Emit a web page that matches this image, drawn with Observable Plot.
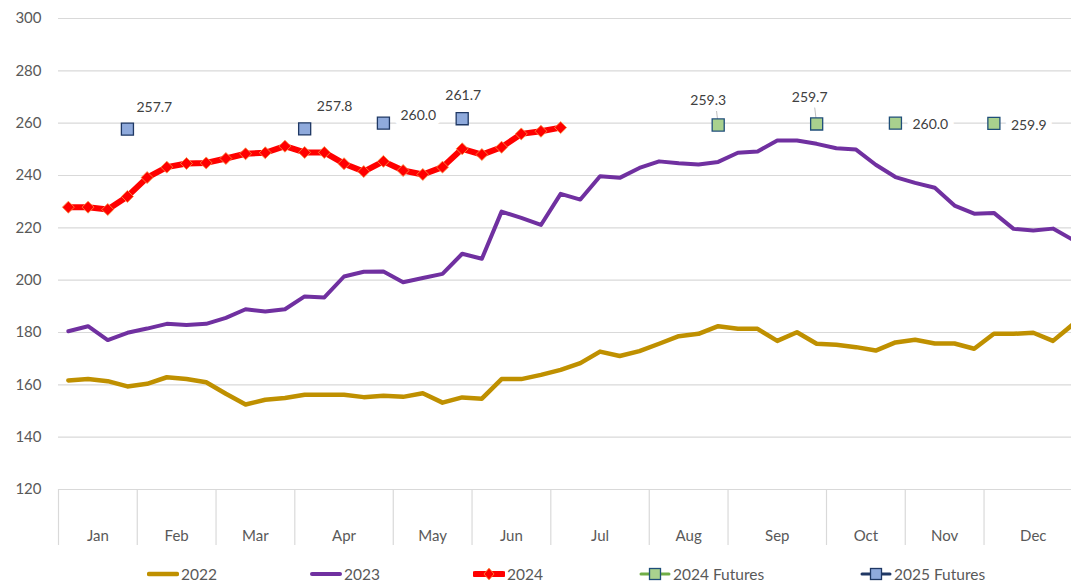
<!DOCTYPE html>
<html>
<head>
<meta charset="utf-8">
<script src="https://cdn.jsdelivr.net/npm/d3@7"></script>
<script src="https://cdn.jsdelivr.net/npm/@observablehq/plot@0.6"></script>
<style>
  html, body { margin: 0; padding: 0; background: #fff; overflow: hidden; }
  #chart { position: relative; width: 1082px; }
  #legend { position: relative; height: 32px; width: 1071px; font-family: Lato, "Open Sans", sans-serif; font-size: 15.5px; color: #595959; }
  .item { position: absolute; top: 13px; height: 22px; display: flex; align-items: center; white-space: nowrap; }
  .item svg { display: block; margin-right: 2px; }
</style>
</head>
<body>
<div id="chart"></div>
<div id="legend"></div>
<script>
// ---- data ----
const months = ["Jan","Feb","Mar","Apr","May","Jun","Jul","Aug","Sep","Oct","Nov","Dec"];
const weeksPerMonth = [4,4,4,5,4,4,5,4,5,4,4,5];
const yTicks = [120,140,160,180,200,220,240,260,280,300];

const s2022 = [161.7,162.2,161.4,159.4,160.4,162.9,162.2,161.0,156.6,152.5,154.3,155.0,156.2,156.2,
  156.2,155.3,155.8,155.4,156.8,153.2,155.2,154.7,162.2,162.2,163.8,165.7,168.3,172.7,171.0,172.9,
  175.7,178.6,179.5,182.4,181.4,181.4,176.8,180.1,175.7,175.3,174.4,173.1,176.2,177.2,175.8,175.8,
  173.8,179.5,179.5,179.9,176.8,183.0];
const s2023 = [180.5,182.4,177.1,179.9,181.5,183.3,182.9,183.3,185.6,188.9,188.0,188.9,193.8,193.4,
  201.4,203.2,203.3,199.2,200.8,202.4,210.1,208.2,226.2,223.8,221.1,233.0,230.8,239.7,239.1,242.9,
  245.4,244.7,244.2,245.2,248.7,249.2,253.4,253.4,252.1,250.4,249.9,244.1,239.4,237.2,235.3,228.5,
  225.4,225.7,219.6,219.0,219.7,215.5];
const s2024 = [227.9,227.9,227.0,232.0,239.2,243.2,244.6,244.8,246.5,248.3,248.7,251.2,248.8,248.8,
  244.5,241.5,245.4,241.9,240.4,243.2,250.2,248.0,250.8,255.9,256.9,258.3];

const fut2024Weeks = [33,38,42,47];
const fut2024Values = [259.3,259.7,260.0,259.9];
const fut2025Weeks = [3,12,16,20];
const fut2025Values = [257.7,257.8,260.0,261.7];

// ---- derived tables ----
const toRows = (arr) => arr.map((v, i) => ({w: i + 0.5, v}));
const r2022 = toRows(s2022), r2023 = toRows(s2023), r2024 = toRows(s2024);
const f2024 = fut2024Weeks.map((w, i) => ({w: w + 0.5, v: fut2024Values[i]}));
const f2025 = fut2025Weeks.map((w, i) => ({w: w + 0.5, v: fut2025Values[i]}));
const bounds = [0]; weeksPerMonth.forEach(n => bounds.push(bounds[bounds.length - 1] + n));
const centers = months.map((m, i) => (bounds[i] + bounds[i + 1]) / 2);
const totalWeeks = bounds[bounds.length - 1];

const C = {
  g22: "#bf9000", p23: "#7030a0", r24: "#ff0000", dOut: "#f79646",
  gFill: "#a9d18e", gLine: "#70ad47", gEdge: "#1f4e79",
  bFill: "#8faadc", bLine: "#203864", bEdge: "#1f3864",
  grid: "#d9d9d9", text: "#595959", label: "#404040"
};

// label placements (dx, dy, anchor) per futures point
const place25 = [[9,-22,"start"],[12,-22,"start"],[17,-8,"start"],[1,-23,"middle"]];
const place24 = [[-10,-24,"middle"],[-7,-26,"middle"],[17,1,"start"],[17,2,"start"]];
const fmt = d3.format(".1f");

const labelMarks = [];
f2025.forEach((d, i) => {
  const [dx, dy, ta] = place25[i];
  labelMarks.push(Plot.text([d], {x: "w", y: "v", text: r => fmt(r.v), dx, dy, textAnchor: ta,
    fill: C.label, fontSize: 14, stroke: "white", strokeWidth: 12, paintOrder: "stroke"}));
});
f2024.forEach((d, i) => {
  const [dx, dy, ta] = place24[i];
  labelMarks.push(Plot.text([d], {x: "w", y: "v", text: r => fmt(r.v), dx, dy, textAnchor: ta,
    fill: C.label, fontSize: 14, stroke: "white", strokeWidth: 12, paintOrder: "stroke"}));
});

const chart = Plot.plot({
  width: 1082,
  height: 550,
  marginLeft: 58,
  marginRight: 0,
  marginTop: 18,
  marginBottom: 61,
  style: {fontFamily: "Lato, 'Open Sans', sans-serif", fontSize: "15px", color: C.text, background: "white", overflow: "visible"},
  x: {domain: [0, totalWeeks], axis: null},
  y: {domain: [120, 300], axis: null},
  marks: [
    Plot.ruleY(yTicks, {stroke: C.grid, strokeWidth: 1.2}),
    Plot.axisY({ticks: yTicks, tickSize: 0, tickPadding: 17, fill: C.text, fontSize: 15, tickFormat: d => d, label: null}),
    Plot.axisX({ticks: bounds, tickSize: 56, tickFormat: () => "", stroke: C.grid, strokeWidth: 1.2, label: null}),
    Plot.axisX({ticks: centers, tickSize: 0, tickPadding: 41, fill: C.text, fontSize: 15, label: null,
      tickFormat: d => months[centers.indexOf(d)]}),
    Plot.line(r2022, {x: "w", y: "v", stroke: C.g22, strokeWidth: 4.5, strokeLinejoin: "round"}),
    Plot.line(r2023, {x: "w", y: "v", stroke: C.p23, strokeWidth: 4, strokeLinejoin: "round"}),
    Plot.line(r2024, {x: "w", y: "v", stroke: C.r24, strokeWidth: 6, strokeLinejoin: "round"}),
    Plot.dot(r2024, {x: "w", y: "v", symbol: "diamond2", r: 5.4, fill: C.r24, stroke: C.dOut, strokeWidth: 0.8}),
    Plot.link(f2024.slice(0, 2), {x1: "w", x2: d => d.w - 0.1, y1: "v", y2: d => d.v + 6.4, stroke: "#bfbfbf", strokeWidth: 1}),
    ...labelMarks,
    Plot.dot(f2024, {x: "w", y: "v", symbol: "square", r: 6.8, fill: C.gFill, stroke: C.gEdge, strokeWidth: 1.3}),
    Plot.dot(f2025, {x: "w", y: "v", symbol: "square", r: 6.8, fill: C.bFill, stroke: C.bEdge, strokeWidth: 1.3})
  ]
});
document.getElementById("chart").appendChild(chart);

// ---- legend ----
const legendItems = [
  {name: "2022", left: 147, line: C.g22, w: 4.5},
  {name: "2023", left: 310, line: C.p23, w: 4},
  {name: "2024", left: 473, line: C.r24, w: 6, marker: "diamond", fill: C.r24, edge: C.dOut},
  {name: "2024 Futures", left: 639, line: C.gLine, w: 3, marker: "square", fill: C.gFill, edge: C.gEdge},
  {name: "2025 Futures", left: 860, line: C.bLine, w: 3, marker: "square", fill: C.bFill, edge: C.bEdge}
];
const legend = document.getElementById("legend");
legendItems.forEach(it => {
  const div = document.createElement("div");
  div.className = "item";
  div.style.left = it.left + "px";
  let marker = "";
  if (it.marker === "diamond") marker = `<path d="M16,5 L21,11 L16,17 L11,11 Z" fill="${it.fill}" stroke="${it.edge}" stroke-width="0.8"/>`;
  if (it.marker === "square") marker = `<rect x="10.5" y="5.5" width="11" height="11" fill="${it.fill}" stroke="${it.edge}" stroke-width="1.3"/>`;
  div.innerHTML = `<svg width="32" height="22"><line x1="2" x2="30" y1="11" y2="11" stroke="${it.line}" stroke-width="${it.w}" stroke-linecap="round"/>${marker}</svg><span>${it.name}</span>`;
  legend.appendChild(div);
});
</script>
</body>
</html>
